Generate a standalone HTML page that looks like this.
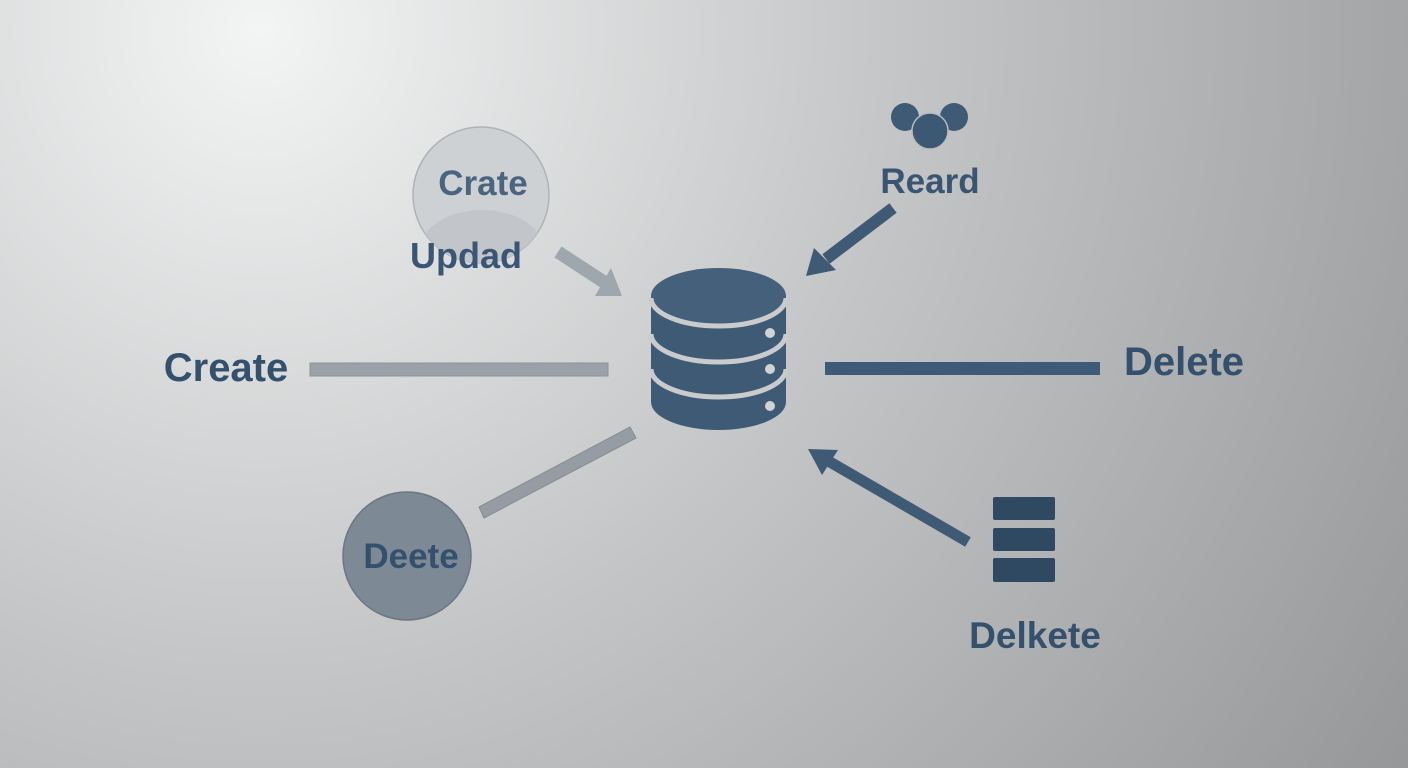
<!DOCTYPE html>
<html><head><meta charset="utf-8"><style>
html,body{margin:0;padding:0;}
body{width:1408px;height:768px;overflow:hidden;}
svg text{font-family:"Liberation Sans","DejaVu Sans",sans-serif;font-weight:bold;}
</style></head><body>
<svg width="1408" height="768" viewBox="0 0 1408 768" xmlns="http://www.w3.org/2000/svg">
<defs>
<radialGradient id="bg" cx="260" cy="30" r="1400" gradientUnits="userSpaceOnUse">
<stop offset="0" stop-color="#f3f4f4"/>
<stop offset="0.45" stop-color="#c4c6c7"/>
<stop offset="1" stop-color="#939597"/>
</radialGradient>
<clipPath id="cc"><circle cx="481" cy="195" r="68"/></clipPath>
</defs>
<rect width="1408" height="768" fill="url(#bg)"/>

<!-- Crate circle -->
<circle cx="481" cy="195" r="68" fill="#cdd1d4" stroke="#aeb3b8" stroke-width="1.5"/>
<ellipse cx="482" cy="250" rx="62" ry="40" fill="#c2c6ca" clip-path="url(#cc)"/>
<text x="483" y="195" font-size="35" fill="#4b6580" text-anchor="middle">Crate</text>
<text x="466" y="268" font-size="36" fill="#3a5674" text-anchor="middle">Updad</text>

<!-- light arrow -->
<line x1="558" y1="252" x2="604" y2="282" stroke="#9ea6ae" stroke-width="13"/>
<polygon points="622,296 595,296 611,268" fill="#9ea6ae"/>

<!-- Database -->
<rect x="651" y="296" width="135" height="106" fill="#3f5a74"/>
<ellipse cx="718.5" cy="402" rx="67.5" ry="28" fill="#3f5a74"/>
<ellipse cx="718.5" cy="296" rx="67.5" ry="28" fill="#45607a"/>
<g fill="none" stroke="#c9cbcd" stroke-width="5">
<path d="M651,298 A67.5,28 0 0 0 786,298"/>
<path d="M651,334 A67.5,28 0 0 0 786,334"/>
<path d="M651,369 A67.5,28 0 0 0 786,369"/>
</g>
<g fill="#d0d2d4">
<circle cx="770" cy="333" r="5"/>
<circle cx="770" cy="369" r="5"/>
<circle cx="770" cy="406" r="5"/>
</g>

<!-- Create left -->
<text x="226" y="381" font-size="40" fill="#33506c" text-anchor="middle">Create</text>
<rect x="310" y="363" width="298" height="13" fill="#9aa1a8" stroke="#8d949b" stroke-width="1"/>

<!-- Delete right -->
<rect x="825" y="362" width="275" height="13" fill="#3d5a76"/>
<text x="1184" y="375" font-size="40" fill="#33506c" text-anchor="middle">Delete</text>

<!-- Reard -->
<circle cx="905" cy="117" r="14" fill="#3f5a74"/>
<circle cx="954" cy="117" r="14" fill="#3f5a74"/>
<circle cx="930" cy="131" r="18" fill="#3d5872" stroke="#b9bcbf" stroke-width="1.5"/>
<text x="930" y="193" font-size="35" fill="#3a5572" text-anchor="middle">Reard</text>
<line x1="893" y1="208" x2="826" y2="259" stroke="#3f5a74" stroke-width="12"/>
<polygon points="806,276 814,248 836,270" fill="#3f5a74"/>

<!-- lower left grey line -->
<polygon points="630,427 636,438 484,518 479,507" fill="#959ca3" stroke="#868d94" stroke-width="1"/>
<circle cx="407" cy="556" r="64" fill="#7d8994" stroke="#6c7782" stroke-width="1.5"/>
<text x="411" y="568" font-size="35" fill="#34506c" text-anchor="middle">Deete</text>

<!-- lower right arrow -->
<line x1="968" y1="542" x2="830" y2="462" stroke="#3f5a74" stroke-width="11"/>
<polygon points="808,449 838,450 822,475" fill="#3f5a74"/>

<!-- stack -->
<g fill="#2f4963">
<rect x="993" y="497" width="62" height="23" rx="2"/>
<rect x="993" y="528" width="62" height="23" rx="2"/>
<rect x="993" y="558" width="62" height="24" rx="2"/>
</g>
<text x="1035" y="648" font-size="37" fill="#33506c" text-anchor="middle">Delkete</text>
</svg>
</body></html>
